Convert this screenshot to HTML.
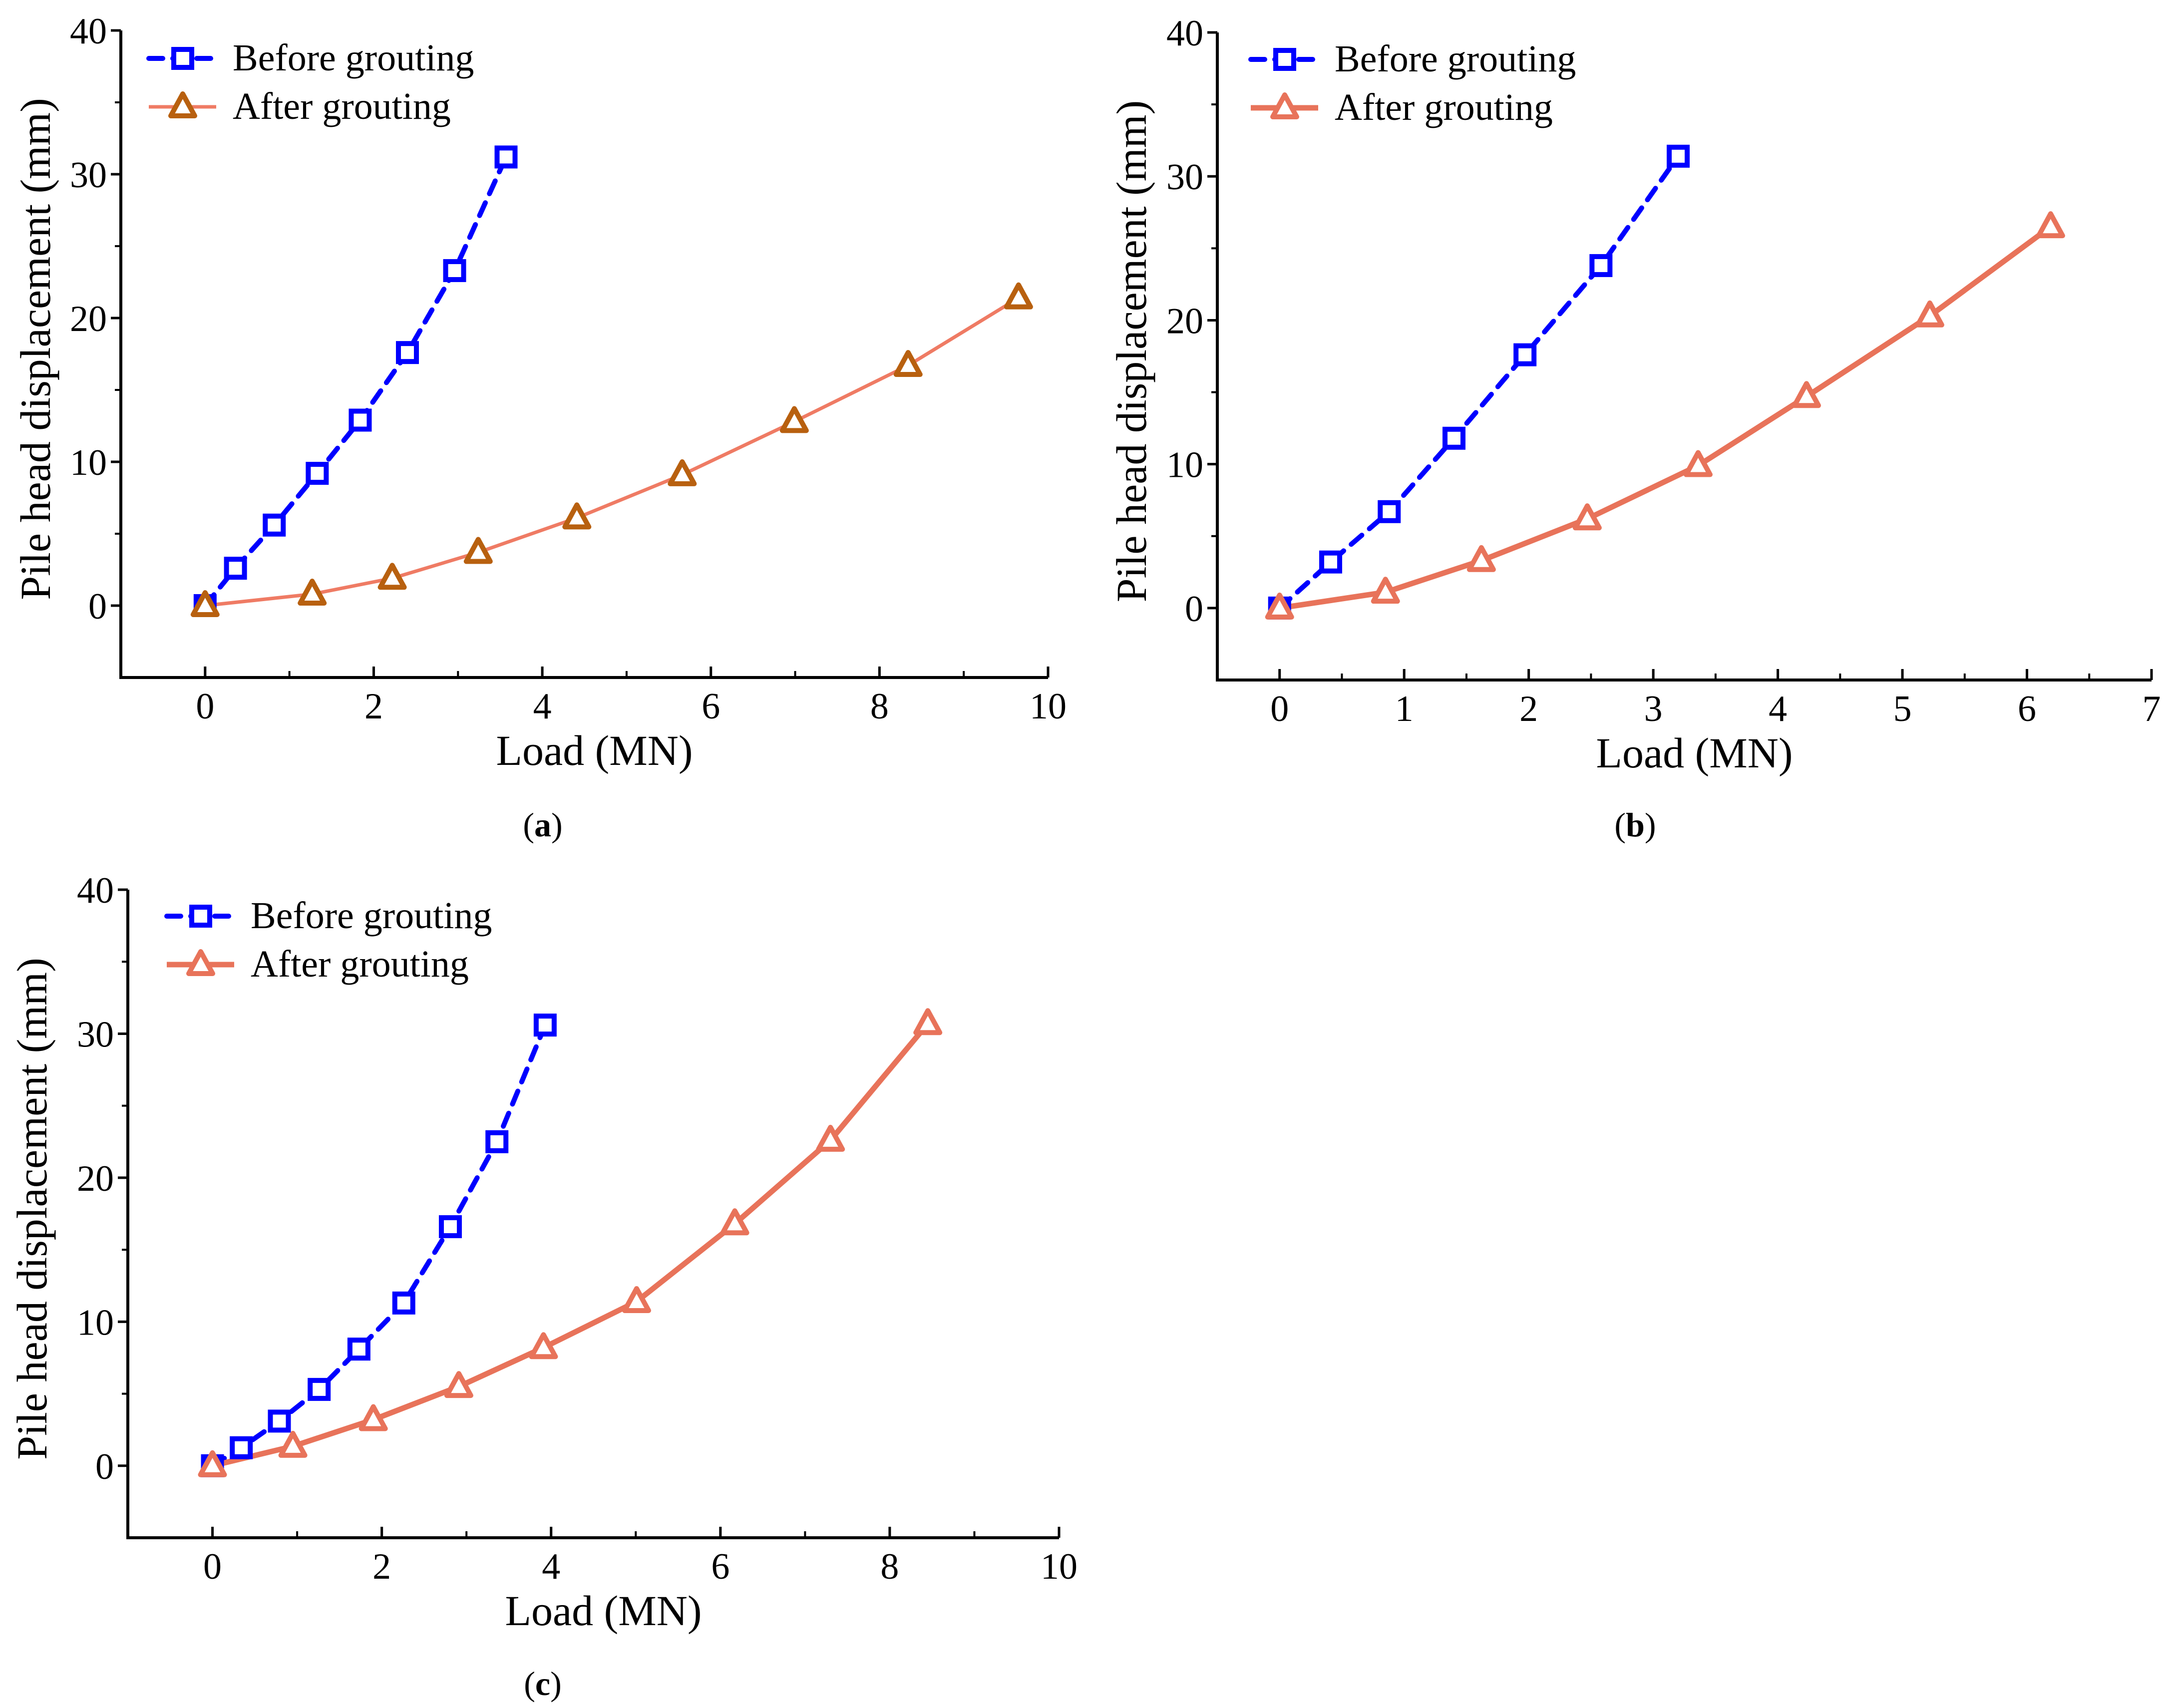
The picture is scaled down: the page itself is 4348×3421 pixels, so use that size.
<!DOCTYPE html>
<html><head><meta charset="utf-8"><style>
html,body{margin:0;padding:0;background:#fff;}
svg{display:block;}
text{font-family:"Liberation Serif","DejaVu Serif",serif;fill:#000;}
</style></head><body>
<svg id="fig" width="4348" height="3421" viewBox="0 0 4348 3421" xmlns="http://www.w3.org/2000/svg"></svg>
<script>
// Panel (a)
const aBeforeX=[0,0.36,0.82,1.33,1.84,2.4,2.96,3.57];
const aBeforeY=[0,2.6,5.6,9.2,12.9,17.6,23.3,31.2];
const aAfterX=[0,1.27,2.22,3.24,4.41,5.66,6.99,8.34,9.65];
const aAfterY=[0,0.8,1.9,3.7,6.1,9.1,12.8,16.7,21.4];
const aXTicks=[0,2,4,6,8,10];
// Panel (b)
const bBeforeX=[0,0.41,0.88,1.4,1.97,2.58,3.2];
const bBeforeY=[0,3.2,6.7,11.8,17.6,23.8,31.4];
const bAfterX=[0,0.85,1.62,2.47,3.36,4.23,5.22,6.19];
const bAfterY=[0,1.1,3.3,6.2,9.9,14.7,20.3,26.5];
const bXTicks=[0,1,2,3,4,5,6,7];
// Panel (c)
const cBeforeX=[0,0.34,0.79,1.26,1.73,2.26,2.81,3.36,3.93];
const cBeforeY=[0,1.25,3.1,5.3,8.1,11.3,16.6,22.5,30.6];
const cAfterX=[0,0.95,1.9,2.91,3.91,5.01,6.17,7.3,8.45];
const cAfterY=[0,1.35,3.2,5.5,8.2,11.4,16.8,22.6,30.7];
const cXTicks=[0,2,4,6,8,10];
const yTicks=[0,10,20,30,40];
const legendLabels=["Before grouting","After grouting"];

const NS="http://www.w3.org/2000/svg";
const fig=document.getElementById('fig');
function mk(tag,attrs,parent){const e=document.createElementNS(NS,tag);for(const k in attrs)e.setAttribute(k,attrs[k]);(parent||fig).appendChild(e);return e;}

function panel(cfg){
  const g=mk('g',{});
  
  
  const sx=v=>cfg.x0+(v-cfg.xmin)*(cfg.x1-cfg.x0)/(cfg.xmax-cfg.xmin);
  const sy=v=>cfg.y0-(v-cfg.ymin)*(cfg.y0-cfg.y1)/(cfg.ymax-cfg.ymin);
  const ax=mk('path',{d:`M${cfg.x0},${sy(cfg.ymax)} L${cfg.x0},${cfg.y0} L${sx(cfg.xmax)},${cfg.y0}`,fill:'none',stroke:'#000','stroke-width':6},g);
  
  
  cfg.xt.forEach((t,i)=>{
    const x=sx(t);
    mk('line',{x1:x,y1:cfg.y0,x2:x,y2:cfg.y0-22,stroke:'#000','stroke-width':5},g);
    if(i<cfg.xt.length-1){const m=sx((t+cfg.xt[i+1])/2);mk('line',{x1:m,y1:cfg.y0,x2:m,y2:cfg.y0-13,stroke:'#000','stroke-width':4},g);}
    const tl=mk('text',{x:x,y:cfg.y0+82,'font-size':74,'text-anchor':'middle'},g);tl.textContent=t;
    
    
  });
  yTicks.forEach((t,i)=>{
    const y=sy(t);
    mk('line',{x1:cfg.x0,y1:y,x2:cfg.x0-20,y2:y,stroke:'#000','stroke-width':5},g);
    if(i<yTicks.length-1){const m=sy(t+5);mk('line',{x1:cfg.x0,y1:m,x2:cfg.x0-12,y2:m,stroke:'#000','stroke-width':4},g);}
    const tl=mk('text',{x:cfg.x0-28,y:y+26,'font-size':74,'text-anchor':'end'},g);tl.textContent=t;
    
    
  });
  const xt=mk('text',{x:(cfg.x0+sx(cfg.xmax))/2+20,y:cfg.y0+175,'font-size':86,'text-anchor':'middle'},g);xt.textContent='Load (MN)';
  
  
  const cy=(cfg.y0+sy(cfg.ymax))/2-10;
  const yt=mk('text',{x:cfg.ytx,y:cy,'font-size':86,'text-anchor':'middle',transform:`rotate(-90 ${cfg.ytx} ${cy})`},g);yt.textContent='Pile head displacement (mm)';
  
  
  const cap=mk('text',{x:cfg.capx,y:cfg.capy,'font-size':68,'text-anchor':'middle'},g);
  cap.innerHTML='(<tspan font-weight="bold">'+cfg.id+'</tspan>)';
  
  
  const blue='#0000ff';
  const pB=cfg.bx.map((v,i)=>sx(v)+','+sy(cfg.by[i])).join(' ');
  const lb=mk('polyline',{points:pB,fill:'none',stroke:blue,'stroke-width':10,'stroke-dasharray':'28,20','stroke-linecap':'round'},g);
  
  
  const pA=cfg.ax.map((v,i)=>sx(v)+','+sy(cfg.ay[i])).join(' ');
  const la=mk('polyline',{points:pA,fill:'none',stroke:cfg.lineC,'stroke-width':cfg.lw,'stroke-linejoin':'round'},g);
  
  
  const sq=(x,y)=>{const r=mk('rect',{x:x-18,y:y-18,width:36,height:36,fill:'#fff',stroke:blue,'stroke-width':10},g);
    
    };
  const tri=(x,y)=>{const p=mk('polygon',{points:`${x},${y-26} ${x-24},${y+18} ${x+24},${y+18}`,fill:'#fff',stroke:cfg.markC,'stroke-width':10,'stroke-linejoin':'round'},g);
    
    };
  cfg.bx.forEach((v,i)=>sq(sx(v),sy(cfg.by[i])));
  cfg.ax.forEach((v,i)=>tri(sx(v),sy(cfg.ay[i])));
  const L=cfg.leg;
  const l1=mk('line',{x1:L.x,y1:L.y,x2:L.x+130,y2:L.y,stroke:blue,'stroke-width':10,'stroke-dasharray':'28,20','stroke-linecap':'round'},g);
  
  
  sq(L.x+68,L.y);
  const t1=mk('text',{x:L.x+168,y:L.y+24,'font-size':76},g);t1.textContent=legendLabels[0];
  
  
  const l2=mk('line',{x1:L.x,y1:L.y+97,x2:L.x+135,y2:L.y+97,stroke:cfg.lineC,'stroke-width':cfg.lw},g);
  
  
  tri(L.x+68,L.y+97);
  const t2=mk('text',{x:L.x+168,y:L.y+121,'font-size':76},g);t2.textContent=legendLabels[1];
  
  
}
panel({id:'a',x0:242,x1:2099,xmin:-1,xmax:10,y0:1357,y1:61,ymin:-5,ymax:40,xt:aXTicks,
  bx:aBeforeX,by:aBeforeY,ax:aAfterX,ay:aAfterY,lineC:'#ef7b64',markC:'#b8600f',lw:7,
  ytx:100,capx:1087,capy:1675,leg:{x:298,y:117}});
panel({id:'b',x0:2438,x1:4309,xmin:-0.5,xmax:7,y0:1362,y1:65,ymin:-5,ymax:40,xt:bXTicks,
  bx:bBeforeX,by:bBeforeY,ax:bAfterX,ay:bAfterY,lineC:'#e8735a',markC:'#e8735a',lw:11,
  ytx:2295,capx:3275,capy:1675,leg:{x:2505,y:119}});
panel({id:'c',x0:256,x1:2121,xmin:-1,xmax:10,y0:3080,y1:1782,ymin:-5,ymax:40,xt:cXTicks,
  bx:cBeforeX,by:cBeforeY,ax:cAfterX,ay:cAfterY,lineC:'#e8735a',markC:'#e8735a',lw:11,
  ytx:93,capx:1087,capy:3395,leg:{x:334,y:1835}});
</script>
</body></html>
